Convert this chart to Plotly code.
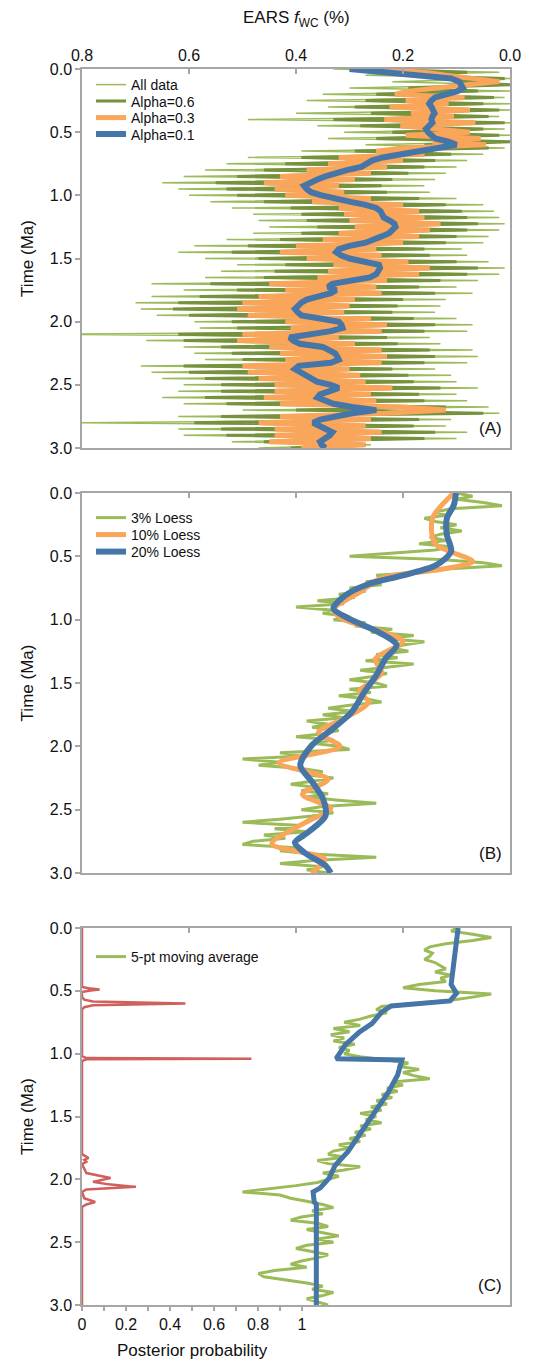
import plotly.graph_objects as go

# ---------------- data ----------------
ages = [0.000, 0.025, 0.050, 0.075, 0.100, 0.125, 0.150, 0.175, 0.200, 0.225,
        0.250, 0.275, 0.300, 0.325, 0.350, 0.375, 0.400, 0.425, 0.450, 0.475,
        0.500, 0.525, 0.550, 0.575, 0.600, 0.625, 0.650, 0.675, 0.700, 0.725,
        0.750, 0.775, 0.800, 0.825, 0.850, 0.875, 0.900, 0.925, 0.950, 0.975,
        1.000, 1.025, 1.050, 1.075, 1.100, 1.125, 1.150, 1.175, 1.200, 1.225,
        1.250, 1.275, 1.300, 1.325, 1.350, 1.375, 1.400, 1.425, 1.450, 1.475,
        1.500, 1.525, 1.550, 1.575, 1.600, 1.625, 1.650, 1.675, 1.700, 1.725,
        1.750, 1.775, 1.800, 1.825, 1.850, 1.875, 1.900, 1.925, 1.950, 1.975,
        2.000, 2.025, 2.050, 2.075, 2.100, 2.125, 2.150, 2.175, 2.200, 2.225,
        2.250, 2.275, 2.300, 2.325, 2.350, 2.375, 2.400, 2.425, 2.450, 2.475,
        2.500, 2.525, 2.550, 2.575, 2.600, 2.625, 2.650, 2.675, 2.700, 2.725,
        2.750, 2.775, 2.800, 2.825, 2.850, 2.875, 2.900, 2.925, 2.950, 2.975,
        3.000]

# Panel A: EARS fWC
all_data = [0.33, 0.02, 0.27, 0.00, 0.22, 0.01, 0.30, 0.00, 0.35, 0.01,
            0.38, 0.00, 0.34, 0.00, 0.40, 0.02, 0.49, 0.00, 0.36, 0.01,
            0.31, 0.00, 0.34, 0.00, 0.27, 0.01, 0.39, 0.05, 0.49, 0.08,
            0.53, 0.10, 0.57, 0.12, 0.61, 0.14, 0.65, 0.16, 0.62, 0.15,
            0.60, 0.10, 0.56, 0.05, 0.52, 0.03, 0.48, 0.02, 0.47, 0.01,
            0.45, 0.02, 0.48, 0.04, 0.53, 0.05, 0.59, 0.09, 0.62, 0.08,
            0.57, 0.04, 0.51, 0.01, 0.54, 0.02, 0.57, 0.06, 0.67, 0.10,
            0.61, 0.07, 0.67, 0.12, 0.70, 0.13, 0.69, 0.14, 0.66, 0.10,
            0.59, 0.07, 0.58, 0.08, 0.85, 0.15, 0.68, 0.13, 0.61, 0.07,
            0.59, 0.06, 0.57, 0.08, 0.69, 0.14, 0.67, 0.11, 0.65, 0.10,
            0.61, 0.06, 0.62, 0.10, 0.65, 0.08, 0.61, 0.04, 0.50, 0.02,
            0.62, 0.11, 0.80, 0.12, 0.62, 0.08, 0.61, 0.10, 0.52, 0.26,
            0.47]
alpha06 = [0.25, 0.08, 0.20, 0.01, 0.10, 0.00, 0.19, 0.06, 0.25, 0.03,
           0.27, 0.05, 0.29, 0.02, 0.26, 0.04, 0.33, 0.01, 0.28, 0.05,
           0.22, 0.02, 0.25, 0.00, 0.16, 0.04, 0.29, 0.11, 0.39, 0.14,
           0.42, 0.16, 0.46, 0.19, 0.51, 0.22, 0.55, 0.24, 0.53, 0.23,
           0.51, 0.17, 0.46, 0.12, 0.41, 0.09, 0.39, 0.08, 0.38, 0.06,
           0.36, 0.08, 0.39, 0.10, 0.43, 0.12, 0.49, 0.16, 0.52, 0.15,
           0.47, 0.10, 0.42, 0.06, 0.44, 0.08, 0.46, 0.13, 0.56, 0.17,
           0.51, 0.14, 0.58, 0.20, 0.62, 0.21, 0.63, 0.22, 0.60, 0.18,
           0.52, 0.14, 0.51, 0.16, 0.62, 0.23, 0.61, 0.21, 0.54, 0.15,
           0.52, 0.14, 0.50, 0.16, 0.61, 0.22, 0.60, 0.19, 0.57, 0.18,
           0.54, 0.13, 0.54, 0.17, 0.57, 0.16, 0.53, 0.12, 0.40, 0.05,
           0.54, 0.17, 0.59, 0.18, 0.54, 0.14, 0.53, 0.16, 0.46, 0.27,
           0.41]
alpha03 = [0.26, 0.16, 0.12, 0.06, 0.02, 0.08, 0.13, 0.19, 0.215, 0.085,
           0.195, 0.115, 0.225, 0.075, 0.185, 0.105, 0.235, 0.065, 0.205, 0.125,
           0.075, 0.195, 0.055, 0.145, 0.045, 0.20, 0.25, 0.16, 0.32, 0.20,
           0.34, 0.23, 0.38, 0.26, 0.43, 0.29, 0.46, 0.32, 0.44, 0.31,
           0.42, 0.26, 0.37, 0.20, 0.32, 0.17, 0.31, 0.16, 0.30, 0.13,
           0.29, 0.15, 0.32, 0.17, 0.35, 0.20, 0.40, 0.25, 0.43, 0.24,
           0.38, 0.19, 0.33, 0.15, 0.34, 0.17, 0.36, 0.23, 0.45, 0.25,
           0.42, 0.24, 0.47, 0.29, 0.50, 0.30, 0.51, 0.31, 0.49, 0.26,
           0.42, 0.23, 0.41, 0.24, 0.50, 0.32, 0.51, 0.29, 0.45, 0.24,
           0.43, 0.23, 0.42, 0.24, 0.50, 0.30, 0.49, 0.28, 0.47, 0.27,
           0.44, 0.22, 0.44, 0.26, 0.46, 0.25, 0.43, 0.20, 0.12, 0.23,
           0.43, 0.26, 0.47, 0.27, 0.44, 0.24, 0.44, 0.26, 0.45, 0.27,
           0.39]
alpha01 = [0.300, 0.240, 0.190, 0.110, 0.095, 0.090, 0.088, 0.098, 0.118, 0.140,
           0.147, 0.151, 0.147, 0.143, 0.141, 0.145, 0.147, 0.145, 0.152, 0.157,
           0.153, 0.147, 0.140, 0.115, 0.100, 0.135, 0.170, 0.210, 0.238, 0.258,
           0.266, 0.278, 0.305, 0.328, 0.345, 0.360, 0.375, 0.385, 0.380, 0.372,
           0.352, 0.330, 0.300, 0.270, 0.250, 0.242, 0.240, 0.236, 0.225, 0.216,
           0.214, 0.220, 0.226, 0.240, 0.255, 0.270, 0.300, 0.320, 0.325, 0.316,
           0.300, 0.272, 0.245, 0.243, 0.248, 0.250, 0.262, 0.300, 0.332, 0.340,
           0.325, 0.335, 0.360, 0.380, 0.390, 0.397, 0.402, 0.397, 0.390, 0.355,
           0.320, 0.315, 0.313, 0.335, 0.385, 0.412, 0.405, 0.393, 0.350, 0.335,
           0.327, 0.323, 0.320, 0.335, 0.395, 0.402, 0.393, 0.380, 0.370, 0.361,
           0.335, 0.320, 0.337, 0.355, 0.360, 0.345, 0.330, 0.295, 0.250, 0.295,
           0.332, 0.355, 0.368, 0.357, 0.342, 0.332, 0.337, 0.347, 0.355, 0.352,
           0.345]

# Panel B: Loess smooths
loess3 = [0.10, 0.07, 0.10, 0.05, 0.015, 0.11, 0.14, 0.12, 0.16, 0.14,
          0.10, 0.13, 0.09, 0.13, 0.15, 0.12, 0.17, 0.11, 0.14, 0.22,
          0.30, 0.13, 0.05, 0.015, 0.12, 0.16, 0.25, 0.21, 0.27, 0.24,
          0.30, 0.27, 0.32, 0.29, 0.36, 0.31, 0.40, 0.33, 0.35, 0.30,
          0.33, 0.27, 0.29, 0.22, 0.26, 0.18, 0.23, 0.16, 0.20, 0.22,
          0.19, 0.25, 0.21, 0.27, 0.18, 0.23, 0.28, 0.23, 0.26, 0.30,
          0.25, 0.23, 0.30, 0.26, 0.32, 0.27, 0.24, 0.30, 0.34, 0.29,
          0.35, 0.31, 0.38, 0.34, 0.37, 0.32, 0.35, 0.40, 0.33, 0.37,
          0.32, 0.30, 0.43, 0.38, 0.50, 0.43, 0.47, 0.39, 0.35, 0.38,
          0.33, 0.37, 0.41, 0.36, 0.39, 0.34, 0.38, 0.32, 0.25, 0.35,
          0.39, 0.33, 0.37, 0.43, 0.50, 0.39, 0.44, 0.38, 0.46, 0.42,
          0.48, 0.50, 0.40, 0.43, 0.37, 0.25, 0.36, 0.43, 0.35, 0.38,
          0.34]
loess10_age = [0.00, 0.20, 0.40, 0.54, 0.60, 0.67, 0.78, 0.92, 0.99, 1.17,
               1.31, 1.42, 1.57, 1.65, 1.78, 1.89, 2.00, 2.13, 2.26, 2.38,
               2.49, 2.60, 2.77, 2.89, 3.00]
loess10 = [0.105, 0.145, 0.140, 0.070, 0.125, 0.240, 0.280, 0.330, 0.315, 0.200,
           0.252, 0.240, 0.282, 0.264, 0.310, 0.358, 0.318, 0.432, 0.340, 0.388,
           0.335, 0.382, 0.445, 0.346, 0.372]
loess20_age = [0.00, 0.095, 0.20, 0.33, 0.46, 0.57, 0.65, 0.72, 0.80, 0.91,
               0.99, 1.10, 1.20, 1.31, 1.44, 1.57, 1.73, 1.87, 1.99, 2.15,
               2.28, 2.41, 2.55, 2.68, 2.76, 2.84, 2.94, 3.00]
loess20 = [0.101, 0.105, 0.118, 0.118, 0.110, 0.138, 0.200, 0.265, 0.305, 0.330,
           0.302, 0.245, 0.212, 0.233, 0.250, 0.272, 0.296, 0.334, 0.370, 0.392,
           0.370, 0.350, 0.345, 0.378, 0.402, 0.384, 0.345, 0.335]

# Panel C: moving average, change-point fit, posterior probability
mavg5 = [0.10, 0.11, 0.07, 0.035, 0.07, 0.12, 0.15, 0.16, 0.145, 0.15,
         0.16, 0.14, 0.13, 0.12, 0.14, 0.11, 0.13, 0.12, 0.17, 0.20,
         0.14, 0.035, 0.07, 0.11, 0.18, 0.24, 0.25, 0.23, 0.26, 0.28,
         0.31, 0.28, 0.33, 0.30, 0.335, 0.31, 0.33, 0.29, 0.32, 0.30,
         0.31, 0.28, 0.23, 0.19, 0.21, 0.17, 0.20, 0.18, 0.15, 0.22,
         0.20, 0.23, 0.21, 0.24, 0.22, 0.25, 0.23, 0.26, 0.24, 0.28,
         0.25, 0.27, 0.24, 0.28, 0.26, 0.29, 0.27, 0.30, 0.28, 0.32,
         0.30, 0.33, 0.34, 0.31, 0.36, 0.34, 0.28, 0.31, 0.35, 0.32,
         0.34, 0.36, 0.40, 0.45, 0.50, 0.43, 0.41, 0.38, 0.35, 0.33,
         0.37, 0.35, 0.39, 0.41, 0.36, 0.34, 0.38, 0.35, 0.32, 0.36,
         0.33, 0.38, 0.40, 0.37, 0.34, 0.36, 0.39, 0.41, 0.38, 0.44,
         0.47, 0.46, 0.42, 0.38, 0.35, 0.37, 0.33, 0.35, 0.38, 0.36,
         0.34]
cp_age = [0.00, 0.45, 0.52, 0.58, 0.62, 0.67, 0.76, 0.83, 0.93, 1.04,
          1.05, 1.17, 1.31, 1.46, 1.62, 1.78, 1.89, 1.99, 2.07, 2.10,
          2.18, 2.20, 3.00]
cp_fit = [0.097, 0.110, 0.100, 0.112, 0.222, 0.240, 0.258, 0.282, 0.308, 0.325,
          0.202, 0.210, 0.228, 0.252, 0.275, 0.303, 0.327, 0.338, 0.355, 0.368,
          0.366, 0.362, 0.362]
post_age = [0.00, 0.47, 0.48, 0.49, 0.50, 0.51, 0.55, 0.57, 0.585, 0.60,
            0.615, 0.63, 0.65, 1.02, 1.035, 1.04, 1.045, 1.06, 1.80, 1.83,
            1.845, 1.86, 1.88, 1.95, 1.99, 2.01, 2.02, 2.04, 2.06, 2.08,
            2.10, 2.15, 2.18, 2.20, 2.22, 3.00]
post_prob = [0.00, 0.00, 0.03, 0.08, 0.03, 0.00, 0.00, 0.01, 0.05, 0.47,
             0.05, 0.01, 0.00, 0.00, 0.02, 0.77, 0.02, 0.00, 0.00, 0.03,
             0.01, 0.02, 0.00, 0.02, 0.13, 0.07, 0.05, 0.12, 0.245, 0.02,
             0.00, 0.01, 0.06, 0.02, 0.00, 0.00]

fwc_ticks = [0.8, 0.6, 0.4, 0.2, 0.0]
age_ticks = [0.0, 0.5, 1.0, 1.5, 2.0, 2.5, 3.0]
prob_ticks = [0, 0.2, 0.4, 0.6, 0.8, 1.0]
prob_labels = ["0", "0.2", "0.4", "0.6", "0.8", "1"]
prob_minor = [0.1, 0.3, 0.5, 0.7, 0.9]

# ---------------- styles ----------------
LG = "#9BBB59"
DG = "#76923C"
OR = "#F9A55A"
BL = "#4675A8"
RD = "#D0605C"
AX = "#A6A6A6"
FONT = "Liberation Sans, Arial, sans-serif"
TXT = "#111111"

# The page body has an 8 px margin: the figure is drawn 8 px right and down.
OFF = 8
W, H = 545 - OFF, 1363 - OFF
PB = 1305          # page y of the bottom of panel C
PH = 1236          # page height spanned by all panels
PROB_PX = 220      # pixels per unit of posterior probability


def py2paper(py):
    return (PB - py) / PH


def px2paper(px):
    return (px - 82) / 428


fig = go.Figure()

# Panel A
fig.add_trace(go.Scatter(x=all_data, y=ages, mode="lines", name="All data",
                         line=dict(color=LG, width=1.5), xaxis="x", yaxis="y", legend="legend"))
fig.add_trace(go.Scatter(x=alpha06, y=ages, mode="lines", name="Alpha=0.6",
                         line=dict(color=DG, width=3), xaxis="x", yaxis="y", legend="legend2"))
fig.add_trace(go.Scatter(x=alpha03, y=ages, mode="lines", name="Alpha=0.3",
                         line=dict(color=OR, width=5), xaxis="x", yaxis="y", legend="legend3"))
fig.add_trace(go.Scatter(x=alpha01, y=ages, mode="lines", name="Alpha=0.1",
                         line=dict(color=BL, width=6), xaxis="x", yaxis="y", legend="legend4"))

# Panel B
fig.add_trace(go.Scatter(x=loess3, y=ages, mode="lines", name="3% Loess",
                         line=dict(color=LG, width=3), xaxis="x2", yaxis="y2", legend="legend5"))
fig.add_trace(go.Scatter(x=loess10, y=loess10_age, mode="lines", name="10% Loess",
                         line=dict(color=OR, width=5, shape="spline", smoothing=0.8),
                         xaxis="x2", yaxis="y2", legend="legend6"))
fig.add_trace(go.Scatter(x=loess20, y=loess20_age, mode="lines", name="20% Loess",
                         line=dict(color=BL, width=6, shape="spline", smoothing=0.8),
                         xaxis="x2", yaxis="y2", legend="legend7"))

# Panel C
fig.add_trace(go.Scatter(x=mavg5, y=ages, mode="lines", name="5-pt moving average",
                         line=dict(color=LG, width=3), xaxis="x3", yaxis="y3", legend="legend8"))
fig.add_trace(go.Scatter(x=cp_fit, y=cp_age, mode="lines", name="Change-point fit",
                         line=dict(color=BL, width=5), xaxis="x3", yaxis="y3", showlegend=False))
fig.add_trace(go.Scatter(x=post_prob, y=post_age, mode="lines", name="Posterior probability",
                         line=dict(color=RD, width=2.5), xaxis="x4", yaxis="y3", showlegend=False))

common_x = dict(range=[0.8, 0.0], tickvals=fwc_ticks, showline=True, linecolor=AX, linewidth=1.5,
                mirror=True, ticks="inside", tickcolor=AX, ticklen=5, tickwidth=1.5,
                showgrid=False, zeroline=False, side="top", automargin=False,
                tickfont=dict(size=16, family=FONT, color=TXT), tickformat=".1f")
common_y = dict(range=[3.0, 0.0], tickvals=age_ticks, showline=True, linecolor=AX, linewidth=1.5,
                mirror=True, ticks="outside", tickcolor=AX, ticklen=5, tickwidth=1.5,
                showgrid=False, zeroline=False, tickformat=".1f", automargin=False,
                tickfont=dict(size=16, family=FONT, color=TXT),
                title=dict(text="Time (Ma)", font=dict(size=17, family=FONT, color=TXT), standoff=12))

leg_common = dict(xanchor="left", yanchor="middle", bgcolor="rgba(0,0,0,0)",
                  font=dict(size=14, family=FONT, color=TXT), itemwidth=30,
                  x=px2paper(91))
legend_rows = {"legend": 85, "legend2": 101.5, "legend3": 118, "legend4": 134.5,
               "legend5": 518, "legend6": 535, "legend7": 552, "legend8": 957}

fig.update_layout(
    width=W, height=H,
    margin=dict(l=82 - OFF, r=W - (510 - OFF), t=69 - OFF, b=H - (PB - OFF), autoexpand=False),
    paper_bgcolor="white", plot_bgcolor="white",
    font=dict(family=FONT, color=TXT),
    xaxis=dict(common_x, anchor="y", showticklabels=True),
    yaxis=dict(common_y, domain=[py2paper(448), 1.0], anchor="x"),
    xaxis2=dict(common_x, anchor="y2", showticklabels=False),
    yaxis2=dict(common_y, domain=[py2paper(873), py2paper(493)], anchor="x2"),
    xaxis3=dict(common_x, anchor="y3", showticklabels=False),
    yaxis3=dict(common_y, domain=[0.0, py2paper(928)], anchor="x3"),
    xaxis4=dict(range=[0, 428 / PROB_PX], overlaying="x3", anchor="y3", side="bottom",
                tickvals=prob_ticks, ticktext=prob_labels, ticks="outside", ticklen=5,
                tickcolor=AX, tickwidth=1.5, showline=False, showgrid=False, zeroline=False,
                minor=dict(tickvals=prob_minor, ticks="outside", ticklen=5, tickcolor=AX,
                           tickwidth=1.5),
                automargin=False, tickfont=dict(size=16, family=FONT, color=TXT)),
    showlegend=True,
)
fig.update_layout({k: dict(leg_common, y=py2paper(v)) for k, v in legend_rows.items()})

annotations = [
    dict(text="EARS <i>f</i><sub>WC</sub> (%)", xref="paper", yref="paper", x=0.5,
         y=py2paper(19), xanchor="center", yanchor="middle", showarrow=False,
         font=dict(size=17, family=FONT, color=TXT)),
    dict(text="Posterior probability", xref="x4", yref="paper", x=0.5, y=py2paper(1350),
         xanchor="center", yanchor="middle", showarrow=False,
         font=dict(size=17, family=FONT, color=TXT)),
]
for ax_x, ax_y, lab in [("x", "y", "(A)"), ("x2", "y2", "(B)"), ("x3", "y3", "(C)")]:
    annotations.append(dict(text=lab, xref=ax_x + " domain", yref=ax_y + " domain",
                            x=0.985, y=0.02, xanchor="right", yanchor="bottom",
                            showarrow=False, font=dict(size=17, family=FONT, color=TXT)))
fig.update_layout(annotations=annotations)

fig.write_html("out.html")
